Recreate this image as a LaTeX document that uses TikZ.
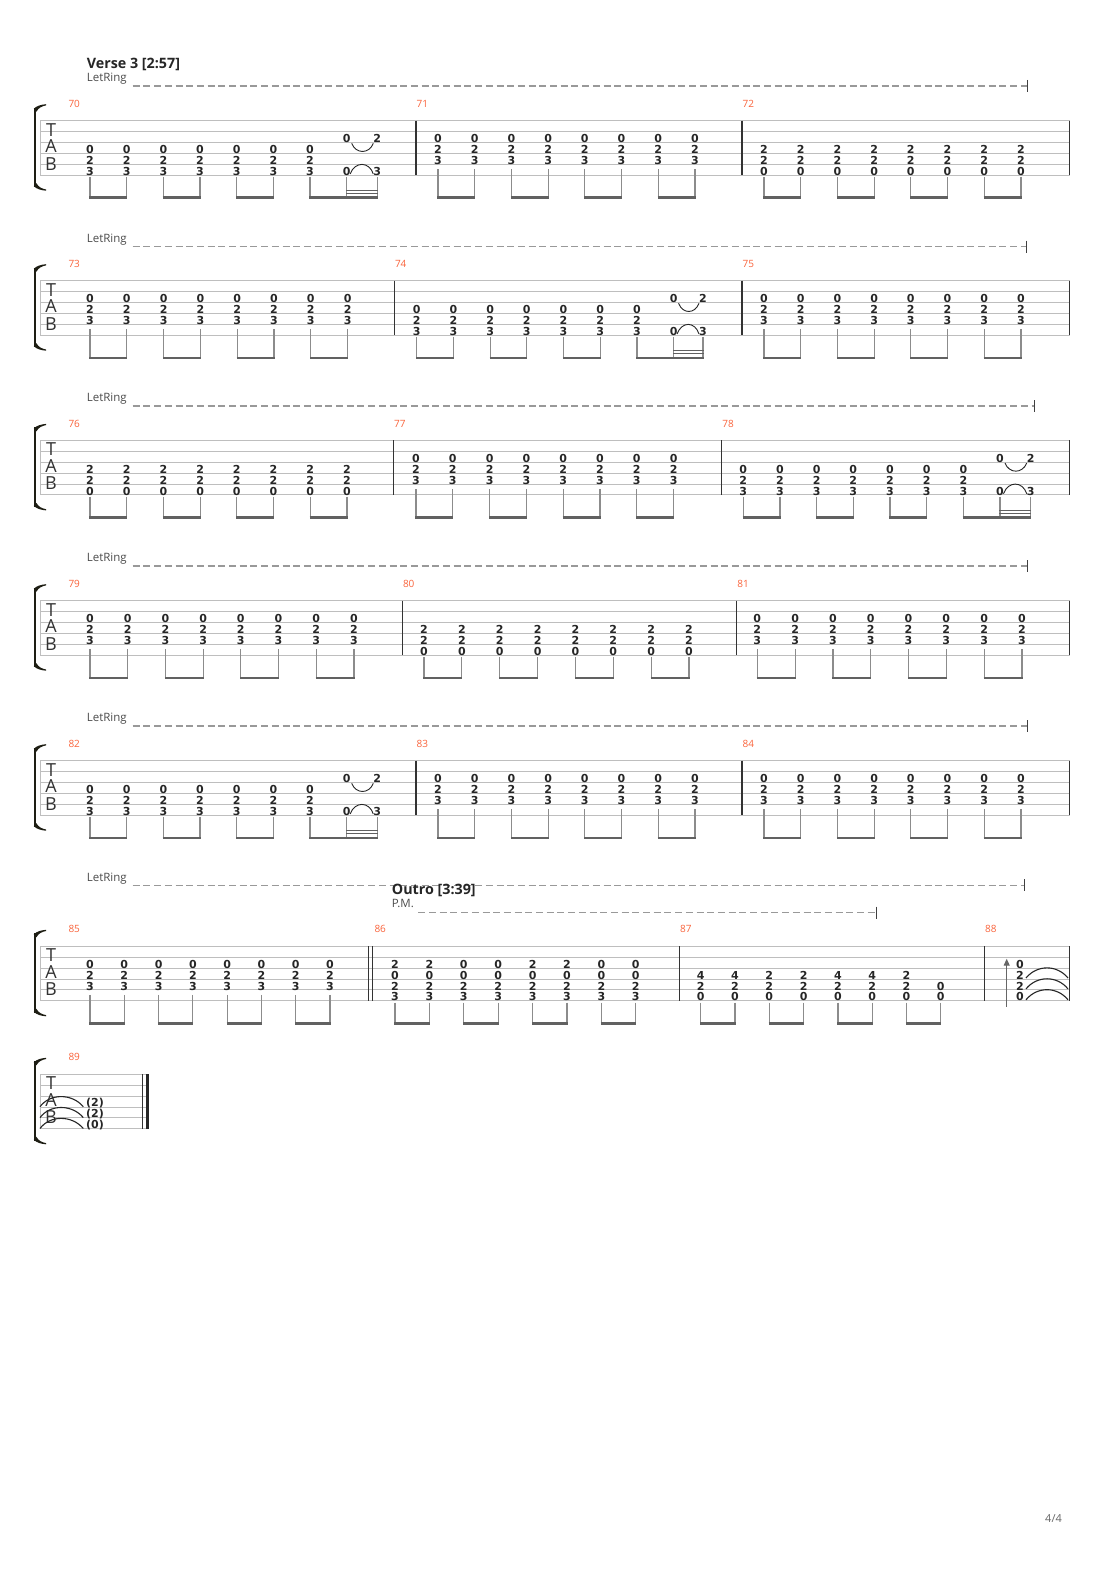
\documentclass[tikz,border=0pt]{standalone}
\usepackage{fontspec}
\setmainfont{Open Sans}
\newfontfamily\digfont{DejaVu Sans}
\usetikzlibrary{arrows.meta}
\definecolor{mnum}{RGB}{250,100,60}
\definecolor{staffc}{RGB}{190,190,190}
\definecolor{brkc}{RGB}{30,30,20}
\tikzset{
 staffl/.style={draw=staffc, line width=0.9pt},
 barl/.style={draw=black!80, line width=1.1pt},
 dig/.style={inner sep=0pt, font=\digfont\bfseries\fontsize{11}{11}\selectfont, text=black!85},
 stemline/.style={draw=black!45, line width=1.2pt},
 beamline/.style={draw=black!62, line width=2.6pt},
 sbeam/.style={draw=black!62, line width=1pt},
 arcline/.style={draw=black!85, line width=0.9pt},
 tiearc/.style={draw=black!85, line width=1.1pt},
 mnumst/.style={anchor=base west, inner sep=0pt, text=mnum, font=\fontsize{10}{10}\selectfont},
 lrtext/.style={anchor=base west, inner sep=0pt, text=black!70, font=\fontsize{11.5}{12}\selectfont},
 titlest/.style={anchor=base west, inner sep=0pt, text=black!85, font=\bfseries\fontsize{14.3}{14}\selectfont},
 dashl/.style={draw=black!40, line width=1.4pt, dash pattern=on 7pt off 3.7pt},
 tickl/.style={draw=black!75, line width=1pt},
 tabl/.style={inner sep=0pt, font=\fontsize{18}{18}\selectfont, text=black!80},
 brk/.style={fill=brkc},
}
\def\ckA{4/0,5/2,6/3}
\def\ckB{3/0,4/2,5/3}
\def\ckC{4/2,5/2,6/0}
\def\ckD{3/2,4/0,5/2,6/3}
\def\ckE{3/0,4/0,5/2,6/3}
\def\ckF{4/4,5/2,6/0}
\def\ckH{5/0,6/0}
\newcommand\stf[2]{%
 \foreach \i in {0,...,5}{\draw[staffl] (40,{#1+\i*10.9}) -- (#2,{#1+\i*10.9});}
 \draw[staffl] (40,#1) -- (40,{#1+54.5});
 \node[tabl] at (51,{#1+9}) {T};
 \node[tabl] at (51,{#1+25.5}) {A};
 \node[tabl] at (51,{#1+43}) {B};
 \fill[brk] (33.8,{#1-13}) rectangle (36.4,{#1+66.5});
 \fill[brk] (33.8,{#1-12}) .. controls (37,{#1-15}) and (41,{#1-16}) .. (46,{#1-16.5}) -- (46,{#1-15.3}) .. controls (42,{#1-14.5}) and (38.5,{#1-13}) .. (36.4,{#1-9}) -- cycle;
 \fill[brk] (33.8,{#1+65.5}) .. controls (37,{#1+68.5}) and (41,{#1+69.5}) .. (46,{#1+70}) -- (46,{#1+68.8}) .. controls (42,{#1+68}) and (38.5,{#1+66.5}) .. (36.4,{#1+62.5}) -- cycle;
}
\newcommand\barl[2]{\draw[barl] (#1,#2) -- (#1,{#2+54.5});}
\newcommand\mn[3]{\node[mnumst] at (#1,{#2-13.4}) {#3};}
\newcommand\letring[2]{\node[lrtext] at (86.7,#1) {LetRing};
 \draw[dashl] (132.7,{#1+4.3}) -- (#2,{#1+4.3});
 \draw[tickl] (#2,{#1-1.7}) -- (#2,{#1+10.3});}
\newcommand\stm[3]{\pgfmathsetmacro\stoff{ifthenelse(#3==6,1.7,5)}\draw[stemline] (#1,{#2+(#3-1)*10.9+\stoff}) -- (#1,{#2+77.1});}
\newcommand\chd[3]{%
 \edef\chlist{#3}%
 \foreach \s/\f in \chlist {\node[dig] at (#1,{#2+(\s-1)*10.9-3.9}) {\f}; \xdef\lows{\s}}%
}
\newcommand\chs[3]{\chd{#1}{#2}{#3}\stm{#1}{#2}{\lows}}
\newcommand\chseq[4]{\foreach \c [count=\k from 0] in {#4}{\pgfmathsetmacro\xx{#2+\k*#3}\chs{\xx}{#1}{\c}}}
\newcommand\bms[4]{\foreach \k in {#4}{\pgfmathsetmacro\xa{#2+\k*#3-0.6}\pgfmathsetmacro\xb{#2+(\k+1)*#3+0.6}\draw[beamline] (\xa,{#1+77.1}) -- (\xb,{#1+77.1});}}
\newcommand\meight[4]{\chseq{#1}{#2}{#3}{#4,#4,#4,#4,#4,#4,#4,#4}\bms{#1}{#2}{#3}{0,2,4,6}}
\newcommand\hpo[4]{%
 \node[dig] at (#3,{#1+21.8-3.9}) {0};
 \node[dig] at (#3,{#1+54.5-3.9}) {0};
 \node[dig] at (#4,{#1+21.8-3.9}) {2};
 \node[dig] at (#4,{#1+54.5-3.9}) {3};
 \stm{#3}{#1}{6}\stm{#4}{#1}{6}
 \draw[beamline] ({#2-0.6},{#1+77.1}) -- ({#4+0.6},{#1+77.1});
 \draw[sbeam] ({#3-0.6},{#1+70.2}) -- ({#4+0.6},{#1+70.2});
 \draw[sbeam] ({#3-0.6},{#1+73.2}) -- ({#4+0.6},{#1+73.2});
 \draw[arcline] ({#3+5},{#1+22.6}) .. controls ({#3+9},{#1+33.5}) and ({#4-8},{#1+33.5}) .. ({#4-4},{#1+22.6});
 \draw[arcline] ({#3+3.5},{#1+53.3}) .. controls ({#3+8},{#1+40.5}) and ({#4-8},{#1+40.5}) .. ({#4-4},{#1+53.3});
}
\newcommand\mhp[5]{%
 \chseq{#1}{#2}{#3}{\ckA,\ckA,\ckA,\ckA,\ckA,\ckA,\ckA}%
 \bms{#1}{#2}{#3}{0,2,4}%
 \pgfmathsetmacro\xsix{#2+6*#3}%
 \hpo{#1}{\xsix}{#4}{#5}}
\begin{document}
\begin{tikzpicture}[x=1pt,y=-1pt]
\useasboundingbox (0,0) rectangle (1110,1570);
\fill[white] (0,0) rectangle (1110,1570);
\node[titlest] (ttl) at (86.7,68.3) {Verse 3 [2:57]};
% ---------- system 1
\letring{81.7}{1027}
\stf{120.7}{1069.5}
\barl{416}{120.7}\barl{742}{120.7}\barl{1069.5}{120.7}
\mn{68.3}{120.7}{70}\mn{416.5}{120.7}{71}\mn{742.5}{120.7}{72}
\mhp{120.7}{90}{36.67}{346.7}{377.3}
\meight{120.7}{438}{36.7}{\ckB}
\meight{120.7}{764}{36.7}{\ckC}
% ---------- system 2
\letring{242.4}{1026.5}
\stf{280.7}{1069.5}
\barl{394.3}{280.7}\barl{742}{280.7}\barl{1069.5}{280.7}
\mn{68.3}{280.7}{73}\mn{394.8}{280.7}{74}\mn{742.5}{280.7}{75}
\meight{280.7}{90}{36.8}{\ckB}
\mhp{280.7}{416.7}{36.7}{673.6}{703}
\meight{280.7}{764}{36.7}{\ckB}
% ---------- system 3
\letring{401.7}{1034.3}
\stf{440.4}{1069.5}
\barl{393.5}{440.4}\barl{721.7}{440.4}\barl{1069.5}{440.4}
\mn{68.3}{440.4}{76}\mn{394}{440.4}{77}\mn{722.2}{440.4}{78}
\meight{440.4}{90}{36.7}{\ckC}
\meight{440.4}{416}{36.8}{\ckB}
\mhp{440.4}{743.3}{36.67}{1000}{1030.7}
% ---------- system 4
\letring{561.7}{1027}
\stf{600.7}{1069.5}
\barl{402.3}{600.7}\barl{736.7}{600.7}\barl{1069.5}{600.7}
\mn{68.3}{600.7}{79}\mn{402.8}{600.7}{80}\mn{737.2}{600.7}{81}
\meight{600.7}{90}{37.7}{\ckB}
\meight{600.7}{424}{37.86}{\ckC}
\meight{600.7}{757.3}{37.8}{\ckB}
% ---------- system 5
\letring{721.7}{1027}
\stf{760.7}{1069.5}
\barl{416}{760.7}\barl{742}{760.7}\barl{1069.5}{760.7}
\mn{68.3}{760.7}{82}\mn{416.5}{760.7}{83}\mn{742.5}{760.7}{84}
\mhp{760.7}{90}{36.67}{346.7}{377.3}
\meight{760.7}{438}{36.7}{\ckB}
\meight{760.7}{764}{36.7}{\ckB}
% ---------- system 6
\letring{881}{1024}
\node[titlest] (outro) at (391.7,894) {Outro [3:39]};
\node[lrtext] (pm) at (391.7,907.7) {P.M.};
\draw[dashl] (418.3,912.7) -- (876.7,912.7);
\draw[tickl] (876.7,906.7) -- (876.7,918.7);
\stf{946.3}{1069.5}
\barl{368.3}{946.3}\barl{372.3}{946.3}\barl{679.3}{946.3}\barl{984.3}{946.3}\barl{1069.5}{946.3}
\mn{68.3}{946.3}{85}\mn{374.3}{946.3}{86}\mn{680}{946.3}{87}\mn{985}{946.3}{88}
\meight{946.3}{90}{34.29}{\ckB}
\chseq{946.3}{395}{34.4}{\ckD,\ckD,\ckE,\ckE,\ckD,\ckD,\ckE,\ckE}
\bms{946.3}{395}{34.4}{0,2,4,6}
\chseq{946.3}{700.7}{34.3}{\ckF,\ckF,\ckC,\ckC,\ckF,\ckF,\ckC,\ckH}
\bms{946.3}{700.7}{34.3}{0,2,4,6}
\draw[stemline,draw=black!60,-{Triangle[length=7pt,width=6pt]}] (1006.7,1006.7) -- (1006.7,958.7);
\chd{1020}{946.3}{3/0,4/2,5/2,6/0}
\foreach \s in {4,5,6}{\pgfmathsetmacro\sy{946.3+(\s-1)*10.9}
 \draw[tiearc] (1026,{\sy-1}) .. controls (1037,{\sy-14.5}) and (1057,{\sy-14.5}) .. (1068,{\sy-1});}
% ---------- system 7
\stf{1074.3}{149.3}
\mn{68.3}{1074.3}{89}
\foreach \s in {4,5,6}{\pgfmathsetmacro\sy{1074.3+(\s-1)*10.9}
 \draw[tiearc] (40,{\sy-0.3}) .. controls (50,{\sy-13.8}) and (72,{\sy-13.8}) .. (83.3,{\sy-0.3});}
\node[dig] (p4) at (95,{1074.3+3*10.9-3.9}) {(2)};
\node[dig] (p5) at (95,{1074.3+4*10.9-3.9}) {(2)};
\node[dig] (p6) at (95,{1074.3+5*10.9-3.9}) {(0)};
\barl{142.7}{1074.3}
\fill[black!85] (146,1074.3) rectangle (149.3,1128.8);
% page number
\node[anchor=base west, inner sep=0pt, text=black!60, font=\fontsize{11}{11}\selectfont] (pg) at (1045,1522) {4/4};
\end{tikzpicture}
\end{document}
